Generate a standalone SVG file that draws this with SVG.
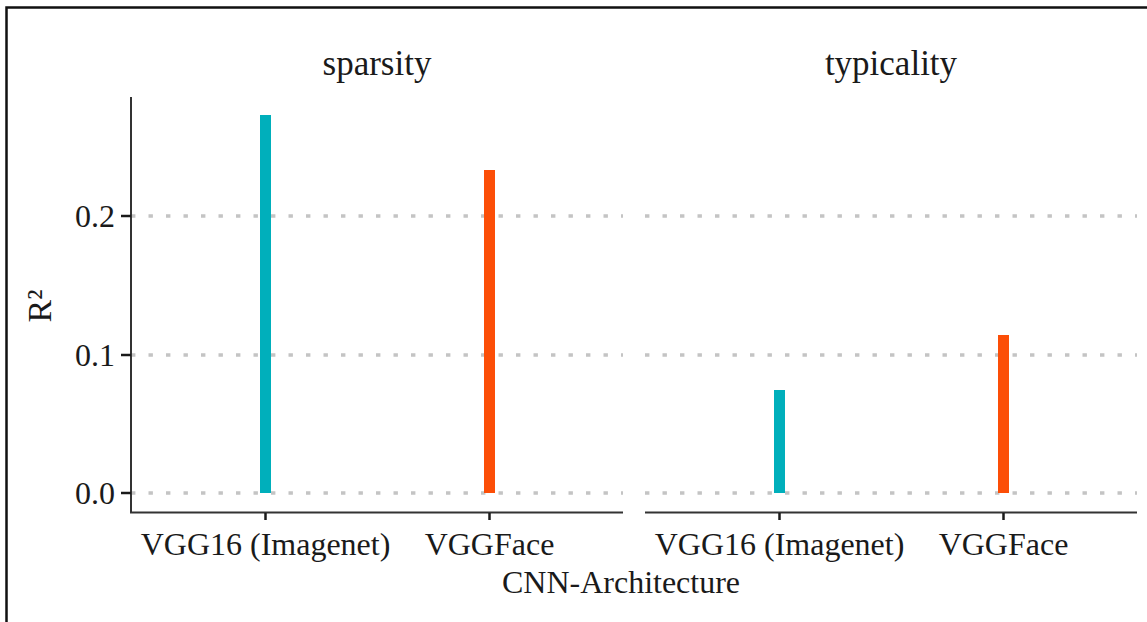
<svg xmlns="http://www.w3.org/2000/svg" width="1147" height="622" viewBox="0 0 1147 622">
<style>
text{font-family:"Liberation Serif","Times New Roman",serif;fill:#1a1a1a}
.tick{font-size:32px}
.strip{font-size:35px;text-anchor:middle}
.grid{stroke:#c4c4c4;stroke-width:3.5;stroke-dasharray:4.4 13.1;fill:none}
.axis{stroke:#333;stroke-width:2;fill:none}
.tk{stroke:#1a1a1a;stroke-width:2.5}
.teal{fill:#00AFBB}
.orange{fill:#FC4E07}
</style>
<rect x="0" y="0" width="1147" height="622" fill="#fff"/>
<path d="M6.5 622 V7.5 H1147" stroke="#111" stroke-width="2.5" fill="none"/>
<g id="grid">
<line class="grid" x1="131" y1="216" x2="623" y2="216"/>
<line class="grid" x1="131" y1="355" x2="623" y2="355"/>
<line class="grid" x1="131" y1="493" x2="623" y2="493"/>
<line class="grid" x1="645" y1="216" x2="1137" y2="216"/>
<line class="grid" x1="645" y1="355" x2="1137" y2="355"/>
<line class="grid" x1="645" y1="493" x2="1137" y2="493"/>
</g>
<g id="bars">
<rect class="teal" x="260" y="115" width="11" height="378"/>
<rect class="orange" x="484" y="170" width="11" height="323"/>
<rect class="teal" x="774" y="390" width="11" height="103"/>
<rect class="orange" x="998" y="335" width="11" height="158"/>
</g>
<g id="axes">
<line class="axis" x1="131" y1="97" x2="131" y2="513"/>
<line class="axis" x1="130" y1="512.5" x2="623" y2="512.5"/>
<line class="axis" x1="645" y1="512.5" x2="1137" y2="512.5"/>
<line class="tk" x1="121" y1="216" x2="131" y2="216"/>
<line class="tk" x1="121" y1="355" x2="131" y2="355"/>
<line class="tk" x1="121" y1="493" x2="131" y2="493"/>
<line class="tk" x1="265.5" y1="513" x2="265.5" y2="520"/>
<line class="tk" x1="489.5" y1="513" x2="489.5" y2="520"/>
<line class="tk" x1="779.5" y1="513" x2="779.5" y2="520"/>
<line class="tk" x1="1003.5" y1="513" x2="1003.5" y2="520"/>
</g>
<g id="labels">
<text class="tick" x="115" y="227" text-anchor="end">0.2</text>
<text class="tick" x="115" y="366" text-anchor="end">0.1</text>
<text class="tick" x="115" y="504" text-anchor="end">0.0</text>
<text class="tick" x="265.5" y="555" text-anchor="middle">VGG16 (Imagenet)</text>
<text class="tick" x="489.5" y="555" text-anchor="middle">VGGFace</text>
<text class="tick" x="779.5" y="555" text-anchor="middle">VGG16 (Imagenet)</text>
<text class="tick" x="1003.5" y="555" text-anchor="middle">VGGFace</text>
<text class="strip" x="377" y="75">sparsity</text>
<text class="strip" x="891" y="75">typicality</text>
<text x="621" y="593" font-size="32" text-anchor="middle">CNN-Architecture</text>
<text transform="translate(51,306) rotate(-90)" font-size="34" text-anchor="middle">R²</text>
</g>
</svg>
